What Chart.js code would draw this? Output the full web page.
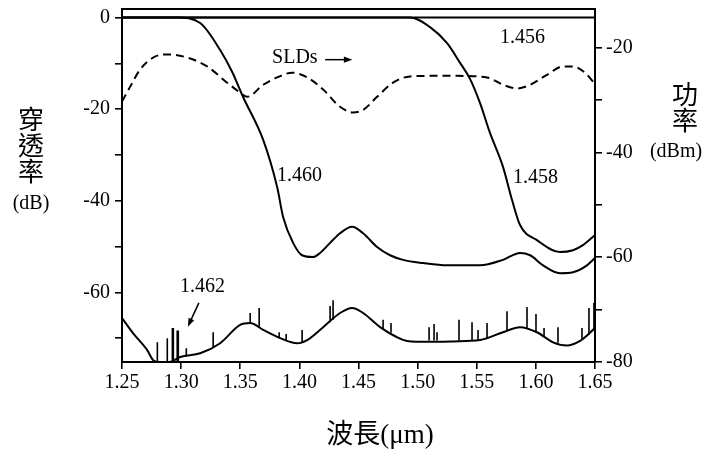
<!DOCTYPE html>
<html>
<head>
<meta charset="utf-8">
<script src="https://cdn.jsdelivr.net/npm/chart.js@4.4.1/dist/chart.umd.min.js"></script>
<style>
  body { margin: 0; background: #fff; }
  canvas { display: block; }
</style>
</head>
<body>
<canvas id="fiberChart" width="710" height="454"></canvas>
<script>
// Wavelength (um) vs transmission (dB)
const wl1456 = [1.25, 1.65];
const db1456 = [0, 0];

const wl1458 = [1.25, 1.45, 1.4936, 1.5105, 1.5249, 1.5359, 1.5443, 1.5528, 1.5612, 1.5722, 1.5798, 1.5866, 1.6009, 1.6204, 1.6314, 1.6398, 1.65];
const db1458 = [0, 0, 0, -2.1, -5.6, -9.9, -13.4, -18.7, -25.2, -32.6, -39.8, -45.3, -48.6, -51.2, -50.8, -49.7, -47.5];

const wl1460 = [1.25, 1.2967, 1.3161, 1.3330, 1.3432, 1.3525, 1.3694, 1.3812, 1.3863, 1.3947, 1.4023, 1.4116, 1.4175, 1.4260, 1.4344, 1.4446, 1.4539, 1.4657, 1.4767, 1.4877, 1.5046, 1.5249, 1.5528, 1.5722, 1.5866, 1.5951, 1.6061, 1.6204, 1.6314, 1.6432, 1.65];
const db1460 = [0, 0, -1.2, -7.1, -11.9, -17.4, -26.7, -37.0, -43.6, -49.2, -51.9, -52.3, -51.4, -49.2, -47.1, -45.7, -47.1, -50.1, -51.9, -52.9, -53.6, -54.1, -54.1, -52.9, -51.4, -51.9, -54.1, -55.8, -55.6, -54.1, -52.5];

const wl1462 = [1.25, 1.2593, 1.2713, 1.2764, 1.2823, 1.2900, 1.2992, 1.3161, 1.3330, 1.3499, 1.3584, 1.3694, 1.3838, 1.3981, 1.4066, 1.4201, 1.4344, 1.4446, 1.4539, 1.4683, 1.4826, 1.4911, 1.5100, 1.5300, 1.5528, 1.5722, 1.5866, 1.6009, 1.6145, 1.6263, 1.6373, 1.65];
const db1462 = [-65.6, -68.9, -72.6, -74.8, -75.2, -75.2, -74.1, -73.3, -71.1, -67.1, -66.7, -68.2, -70.0, -71.1, -70.4, -67.6, -64.5, -63.4, -64.5, -67.6, -69.8, -70.6, -70.8, -70.7, -70.4, -68.7, -67.6, -68.7, -70.9, -71.6, -70.6, -67.8];

// spikes on the 1.462 trace: wavelength, foot and tip (dB)
const spikeWl   = [1.2799, 1.2883, 1.2926, 1.2934, 1.2967, 1.2976, 1.3044, 1.3271, 1.3584, 1.3660, 1.3829, 1.3888, 1.4023, 1.4260, 1.4285, 1.4708, 1.4775, 1.5097, 1.5139, 1.5164, 1.5350, 1.5460, 1.5511, 1.5587, 1.5756, 1.5925, 1.6001, 1.6069, 1.6187, 1.6390, 1.6449, 1.6491];
const spikeBase = [-75, -75, -75, -75, -75, -75, -74, -72, -66.8, -67.5, -70, -70.5, -71, -66.5, -66, -68, -68.8, -70.5, -70.5, -70.5, -70.5, -70.4, -70.4, -70.2, -68.5, -67.8, -68.6, -69.5, -71.0, -70.3, -69.3, -68.2];
const spikeTop  = [-70.9, -70.0, -67.8, -67.8, -68.3, -68.3, -72.2, -68.7, -64.5, -63.4, -68.7, -69.1, -68.2, -63.0, -61.7, -66.0, -66.7, -67.6, -66.9, -68.7, -66.0, -66.5, -68.2, -66.7, -64.1, -63.2, -64.7, -67.8, -67.6, -67.8, -63.4, -62.3];

// SLD source spectrum, power in dBm (right axis)
const wlSLD  = [1.25, 1.2568, 1.2653, 1.2763, 1.2882, 1.3051, 1.3220, 1.3389, 1.3499, 1.3558, 1.3694, 1.3812, 1.3939, 1.4066, 1.4201, 1.4344, 1.4454, 1.4539, 1.4657, 1.4792, 1.4936, 1.5105, 1.5333, 1.5587, 1.5722, 1.5840, 1.5951, 1.6094, 1.6229, 1.6314, 1.6415, 1.6491];
const dbmSLD = [-30.3, -27.5, -24.2, -21.9, -21.3, -21.9, -23.6, -26.7, -28.6, -29.4, -27.1, -25.7, -24.8, -25.7, -28.0, -31.3, -32.4, -31.9, -29.4, -26.7, -25.5, -25.4, -25.4, -25.7, -27.1, -27.8, -27.1, -25.2, -23.6, -23.6, -24.8, -26.7];

// axis ticks
const xTicks = [1.25, 1.30, 1.35, 1.40, 1.45, 1.50, 1.55, 1.60, 1.65];
const leftTicks = [0, -10, -20, -30, -40, -50, -60, -70];
const leftLabels = [0, -20, -40, -60];
const rightTicks = [-20, -30, -40, -50, -60, -70, -80];
const rightLabels = [-20, -40, -60, -80];

// text notes on the plot (data coords, left edge of text)
const notes = [
  { text: '1.456', wl: 1.5697, db: -4.4 },
  { text: 'SLDs', wl: 1.3769, db: -8.7 },
  { text: '1.460', wl: 1.3811, db: -34.5 },
  { text: '1.458', wl: 1.5807, db: -35.0 },
  { text: '1.462', wl: 1.2990, db: -58.8 }
];
const arrows = [
  { from: [1.4218, -9.2], to: [1.4448, -9.2] },
  { from: [1.3150, -62.3], to: [1.3057, -67.5] }
];

const serif = "'Liberation Serif', 'DejaVu Serif', serif";
const cjk = "'Noto Sans CJK TC', 'Noto Sans CJK SC', sans-serif";

function pairs(xs, ys) {
  return xs.map((x, i) => ({ x: x, y: ys[i] }));
}

// each spike becomes a short vertical segment, separated by a gap
const spikeData = [];
spikeWl.forEach((w, i) => {
  spikeData.push({ x: w, y: spikeBase[i] });
  spikeData.push({ x: w, y: spikeTop[i] });
  spikeData.push({ x: w, y: null });
});

function lineSet(data, axis, extra) {
  return Object.assign({
    data: data,
    yAxisID: axis,
    borderColor: '#000',
    borderWidth: 2,
    pointRadius: 0,
    fill: false,
    cubicInterpolationMode: 'monotone'
  }, extra || {});
}

// no extra room for half tick labels at the ends of the axes
function noPad(s) {
  s.paddingTop = 0;
  s.paddingBottom = 0;
  s.paddingLeft = 0;
  s.paddingRight = 0;
}

const notesPlugin = {
  id: 'notes',
  afterDraw(chart) {
    const ctx = chart.ctx;
    const sx = chart.scales.x, sy = chart.scales.y;
    ctx.save();
    ctx.fillStyle = '#000';
    ctx.strokeStyle = '#000';

    ctx.font = '20px ' + serif;
    ctx.textAlign = 'left';
    ctx.textBaseline = 'middle';
    notes.forEach(n => {
      ctx.fillText(n.text, sx.getPixelForValue(n.wl), sy.getPixelForValue(n.db));
    });

    arrows.forEach(a => {
      const x1 = sx.getPixelForValue(a.from[0]), y1 = sy.getPixelForValue(a.from[1]);
      const x2 = sx.getPixelForValue(a.to[0]), y2 = sy.getPixelForValue(a.to[1]);
      const ang = Math.atan2(y2 - y1, x2 - x1);
      ctx.lineWidth = 1.5;
      ctx.beginPath();
      ctx.moveTo(x1, y1);
      ctx.lineTo(x2 - 5 * Math.cos(ang), y2 - 5 * Math.sin(ang));
      ctx.stroke();
      ctx.beginPath();
      ctx.moveTo(x2, y2);
      ctx.lineTo(x2 - 9 * Math.cos(ang - 0.35), y2 - 9 * Math.sin(ang - 0.35));
      ctx.lineTo(x2 - 9 * Math.cos(ang + 0.35), y2 - 9 * Math.sin(ang + 0.35));
      ctx.closePath();
      ctx.fill();
    });

    // axis titles; the y ones are stacked vertically
    ctx.textAlign = 'center';
    ctx.font = '27px ' + serif + ", 'Noto Sans CJK TC'";
    ctx.fillText('波長(μm)', 380, 436);
    ctx.font = '26px ' + cjk;
    ['穿', '透', '率'].forEach((c, i) => ctx.fillText(c, 31, 119 + i * 26));
    ['功', '率'].forEach((c, i) => ctx.fillText(c, 685, 94 + i * 26));
    ctx.font = '20px ' + serif;
    ctx.fillText('(dB)', 31, 204);
    ctx.fillText('(dBm)', 676, 152);
    ctx.restore();
  }
};

const ctx = document.getElementById('fiberChart').getContext('2d');
new Chart(ctx, {
  type: 'line',
  data: {
    datasets: [
      lineSet(pairs(wl1456, db1456), 'y', { cubicInterpolationMode: 'default', tension: 0 }),
      lineSet(pairs(wl1458, db1458), 'y'),
      lineSet(pairs(wl1460, db1460), 'y'),
      lineSet(pairs(wl1462, db1462), 'y'),
      lineSet(spikeData, 'y', { borderWidth: 1.6, cubicInterpolationMode: 'default', tension: 0, spanGaps: false }),
      lineSet(pairs(wlSLD, dbmSLD), 'y2', { borderDash: [8, 5] })
    ]
  },
  options: {
    responsive: false,
    animation: false,
    events: [],
    layout: { padding: 0 },
    plugins: { legend: { display: false }, tooltip: { enabled: false } },
    scales: {
      x: {
        type: 'linear',
        position: 'bottom',
        min: 1.25,
        max: 1.65,
        afterBuildTicks: s => { s.ticks = xTicks.map(v => ({ value: v })); },
        afterFit: s => { s.height = 92; noPad(s); },
        ticks: {
          color: '#000',
          font: { size: 20, family: serif },
          padding: 2,
          maxRotation: 0,
          autoSkip: false,
          callback: v => v.toFixed(2)
        },
        grid: { drawOnChartArea: false, drawTicks: true, tickLength: 7, color: '#000', lineWidth: 1.6 },
        border: { display: true, color: '#000', width: 2 }
      },
      xTop: {
        type: 'linear',
        position: 'top',
        min: 1.25,
        max: 1.65,
        afterFit: s => { s.height = 9; noPad(s); },
        ticks: { display: false },
        grid: { drawOnChartArea: false, drawTicks: false },
        border: { display: true, color: '#000', width: 2 }
      },
      y: {
        type: 'linear',
        position: 'left',
        min: -75.2,
        max: 1.86,
        afterBuildTicks: s => { s.ticks = leftTicks.map(v => ({ value: v })); },
        afterFit: s => { s.width = 122; noPad(s); },
        ticks: {
          color: '#000',
          font: { size: 20, family: serif },
          padding: 5,
          autoSkip: false,
          callback: v => leftLabels.includes(v) ? String(v) : ''
        },
        grid: { drawOnChartArea: false, drawTicks: true, tickLength: 7, color: '#000', lineWidth: 1.6 },
        border: { display: true, color: '#000', width: 2 }
      },
      y2: {
        type: 'linear',
        position: 'right',
        min: -80,
        max: -12.64,
        afterBuildTicks: s => { s.ticks = rightTicks.map(v => ({ value: v })); },
        afterFit: s => { s.width = 115; noPad(s); },
        ticks: {
          color: '#000',
          font: { size: 20, family: serif },
          padding: 4,
          autoSkip: false,
          callback: v => rightLabels.includes(v) ? String(v) : ''
        },
        grid: { drawOnChartArea: false, drawTicks: true, tickLength: 7, color: '#000', lineWidth: 1.6 },
        border: { display: true, color: '#000', width: 2 }
      }
    }
  },
  plugins: [notesPlugin]
});
</script>
</body>
</html>
